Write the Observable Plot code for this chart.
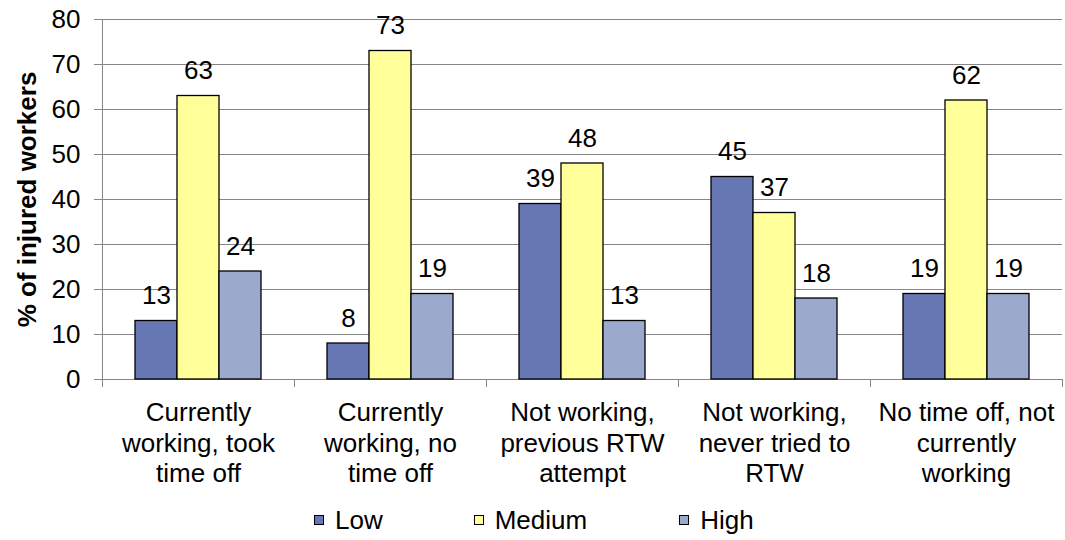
<!DOCTYPE html>
<html>
<head>
<meta charset="utf-8">
<script src="https://cdn.jsdelivr.net/npm/d3@7"></script>
<script src="https://cdn.jsdelivr.net/npm/@observablehq/plot@0.6"></script>
<style>
  html, body { margin: 0; padding: 0; background: #fff; }
  body { width: 1065px; height: 540px; overflow: hidden; font-family: "Liberation Sans", Arial, sans-serif; }
  #legend { display: flex; align-items: center; height: 40px; padding-left: 314px; box-sizing: border-box; font-size: 26px; color: #000; }
  .item { display: flex; align-items: center; }
  .sw { width: 8px; height: 8px; border: 1.3px solid #000; margin-right: 11px; }
</style>
</head>
<body>
<div id="chart"></div>
<div id="legend"></div>
<script>
const categories = [
  "Currently working, took time off",
  "Currently working, no time off",
  "Not working, previous RTW attempt",
  "Not working, never tried to RTW",
  "No time off, not currently working"
];
const tickLabels = [
  "Currently\nworking, took\ntime off",
  "Currently\nworking, no\ntime off",
  "Not working,\nprevious RTW\nattempt",
  "Not working,\nnever tried to\nRTW",
  "No time off, not\ncurrently\nworking"
];
const series = ["Low", "Medium", "High"];
const low = [13, 8, 39, 45, 19];
const medium = [63, 73, 48, 37, 62];
const high = [24, 19, 13, 18, 19];
const yTicks = [0, 10, 20, 30, 40, 50, 60, 70, 80];
const yLabel = "% of injured workers";
const colors = ["#6677b3", "#ffff99", "#9aa9cc"];
const gridColor = "#878787";

const values = [low, medium, high];
const data = categories.flatMap((c, i) => series.map((s, j) => ({cat: c, series: s, value: values[j][i]})));

const chart = Plot.plot({
  width: 1065,
  height: 500,
  marginLeft: 100,
  marginRight: 1,
  marginTop: 19,
  marginBottom: 121,
  style: {fontFamily: "'Liberation Sans', Arial, sans-serif", fontSize: "26px", color: "#000", background: "#fff"},
  fx: {domain: categories, padding: 0, label: null, axis: null},
  x: {domain: series, paddingInner: 0, paddingOuter: 0.752, axis: null},
  y: {domain: [0, 80], label: null},
  color: {domain: series, range: colors},
  marks: [
    Plot.gridY({ticks: yTicks, stroke: gridColor, strokeOpacity: 1, strokeWidth: 1}),
    Plot.frame({anchor: "left", facetAnchor: "left", stroke: gridColor, strokeWidth: 1}),
    Plot.frame({anchor: "left", insetTop: 360, insetBottom: -7, stroke: gridColor, strokeWidth: 1}),
    Plot.frame({anchor: "right", facetAnchor: "right", insetTop: 360, insetBottom: -7, stroke: gridColor, strokeWidth: 1}),
    Plot.axisY({ticks: yTicks, tickSize: 8, tickPadding: 14, stroke: gridColor, fill: "#000", fontSize: 26,
      label: yLabel, labelAnchor: "center", labelArrow: "none", labelOffset: 85}),
    Plot.axisFx({anchor: "bottom", tickSize: 0, tickPadding: 20, lineHeight: 1.17, fontSize: 26, label: null,
      tickFormat: d => tickLabels[categories.indexOf(d)]}),
    Plot.barY(data, {fx: "cat", x: "series", y: "value", fill: "series", stroke: "#000", strokeWidth: 1.3}),
    Plot.text(data, {fx: "cat", x: "series", y: "value", text: d => String(d.value), dy: -17, lineAnchor: "bottom", fontSize: 26, fill: "#000"})
  ]
});
document.getElementById("chart").append(chart);

// axis title is bold in the reference
d3.select(chart).selectAll("text").filter(function() { return this.textContent === yLabel; })
  .attr("font-weight", "bold");

const legend = d3.select("#legend");
const gaps = [91, 92, 0];
series.forEach((s, i) => {
  const it = legend.append("div").attr("class", "item").style("margin-right", gaps[i] + "px");
  it.append("div").attr("class", "sw").style("background", colors[i]);
  it.append("span").text(s);
});
</script>
</body>
</html>
